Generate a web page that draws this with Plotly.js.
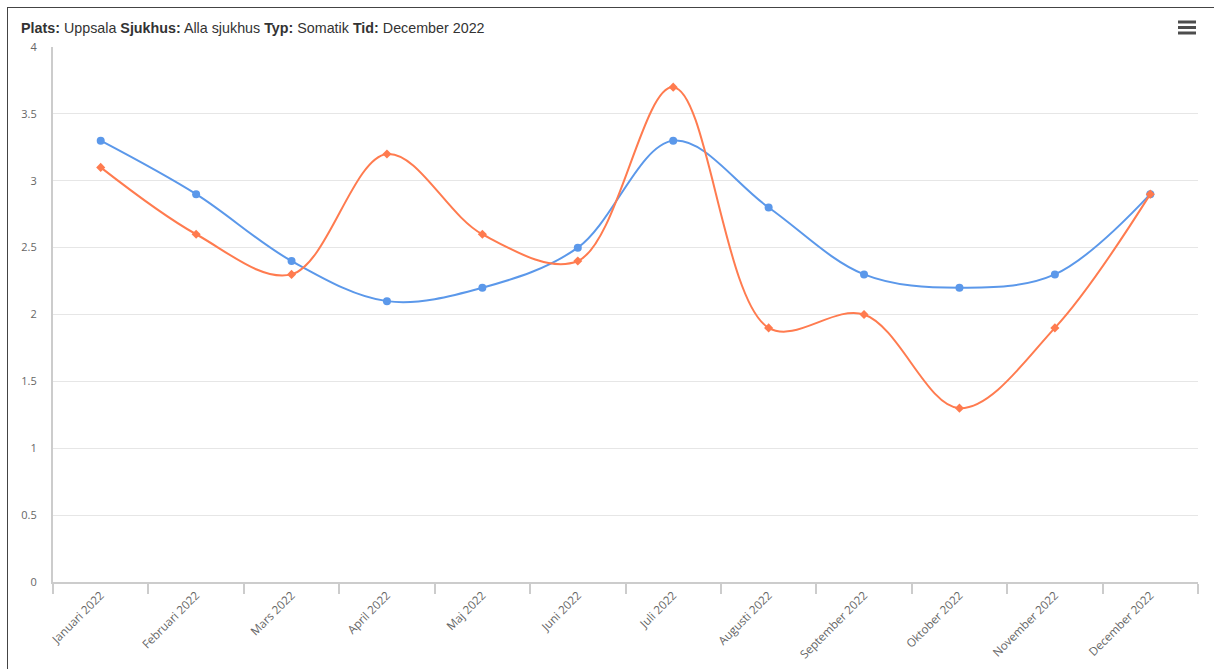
<!DOCTYPE html>
<html>
<head>
<meta charset="utf-8">
<script src="https://cdn.plot.ly/plotly-3.0.1.min.js"></script>
<style>
  html, body { margin: 0; padding: 0; background: #ffffff; overflow: hidden; }
  #frame {
    position: absolute; left: 7px; top: 7px; width: 1214px; height: 669px;
    border-left: 1px solid #444; border-top: 1px solid #444; pointer-events: none; z-index: 5;
  }
  #chart { position: absolute; left: 0; top: 0; width: 1214px; height: 669px; }
</style>
</head>
<body>
<div id="chart"></div>
<div id="frame"></div>
<script>
// Months of 2022
const months = [
  'Januari 2022', 'Februari 2022', 'Mars 2022', 'April 2022', 'Maj 2022', 'Juni 2022',
  'Juli 2022', 'Augusti 2022', 'September 2022', 'Oktober 2022', 'November 2022', 'December 2022'
];
// Two monthly series
const seriesBlue = [3.3, 2.9, 2.4, 2.1, 2.2, 2.5, 3.3, 2.8, 2.3, 2.2, 2.3, 2.9];
const seriesOrange = [3.1, 2.6, 2.3, 3.2, 2.6, 2.4, 3.7, 1.9, 2.0, 1.3, 1.9, 2.9];
const yTicks = [0, 0.5, 1, 1.5, 2, 2.5, 3, 3.5, 4];

const traces = [
  {
    x: months, y: seriesBlue, type: 'scatter', mode: 'lines+markers',
    line: { color: '#5b98ea', width: 2, shape: 'spline', smoothing: 1 },
    marker: { color: '#5b98ea', size: 8, symbol: 'circle' },
    hoverinfo: 'x+y'
  },
  {
    x: months, y: seriesOrange, type: 'scatter', mode: 'lines+markers',
    line: { color: '#ff7b4f', width: 2, shape: 'spline', smoothing: 1 },
    marker: { color: '#ff7b4f', size: 7, symbol: 'diamond' },
    hoverinfo: 'x+y'
  }
];

const layout = {
  width: 1214, height: 669,
  margin: { l: 53, r: 16, t: 47, b: 87 },
  paper_bgcolor: '#ffffff', plot_bgcolor: '#ffffff',
  showlegend: false,
  title: {
    text: '<b>Plats:</b> Uppsala <b>Sjukhus:</b> Alla sjukhus <b>Typ:</b> Somatik <b>Tid:</b> December 2022',
    font: { family: 'Liberation Sans, Arial, sans-serif', size: 14.3, color: '#333333' },
    xref: 'container', yref: 'container',
    x: 21 / 1214, xanchor: 'left',
    y: 1 - 27.5 / 669, yanchor: 'middle'
  },
  xaxis: {
    type: 'category',
    range: [-0.5, 11.5],
    tickson: 'boundaries',
    ticks: 'outside', ticklen: 10, tickwidth: 2, tickcolor: '#cccccc',
    showline: true, linecolor: '#cccccc', linewidth: 2,
    showgrid: false, zeroline: false,
    tickangle: -45,
    tickfont: { family: 'Open Sans, sans-serif', size: 11.6, color: '#666666' },
    fixedrange: true
  },
  yaxis: {
    range: [0, 4],
    tickvals: yTicks,
    ticktext: yTicks.map(String),
    showline: true, linecolor: '#cccccc', linewidth: 2,
    showgrid: true, gridcolor: '#e6e6e6', gridwidth: 1,
    zeroline: false,
    ticks: '', ticklabelstandoff: 12,
    tickfont: { family: 'Open Sans, sans-serif', size: 11, color: '#666666' },
    fixedrange: true
  },
  shapes: [
    // menu icon (three bars)
    { type: 'rect', xref: 'paper', yref: 'paper',
      x0: (1178 - 53) / 1145, x1: (1196 - 53) / 1145,
      y0: (582 - 23.5) / 535, y1: (582 - 20.5) / 535,
      fillcolor: '#4d4d4d', line: { width: 0 } },
    { type: 'rect', xref: 'paper', yref: 'paper',
      x0: (1178 - 53) / 1145, x1: (1196 - 53) / 1145,
      y0: (582 - 29) / 535, y1: (582 - 26) / 535,
      fillcolor: '#4d4d4d', line: { width: 0 } },
    { type: 'rect', xref: 'paper', yref: 'paper',
      x0: (1178 - 53) / 1145, x1: (1196 - 53) / 1145,
      y0: (582 - 34.5) / 535, y1: (582 - 31.5) / 535,
      fillcolor: '#4d4d4d', line: { width: 0 } }
  ]
};

Plotly.newPlot('chart', traces, layout, { displayModeBar: false, staticPlot: false });
</script>
</body>
</html>
